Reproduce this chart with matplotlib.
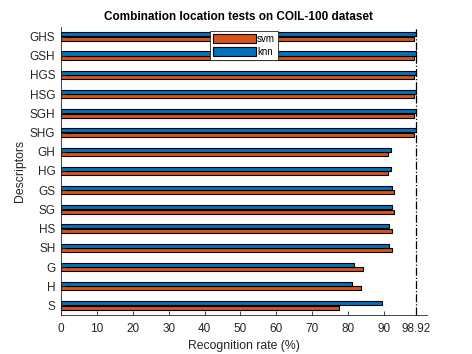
import numpy as np
import matplotlib
matplotlib.use("Agg")
import matplotlib.pyplot as plt

plt.rcParams['font.family'] = ['Liberation Sans', 'DejaVu Sans']

descriptors = ["S", "H", "G", "SH", "HS", "SG", "GS", "HG", "GH",
               "SHG", "SGH", "HSG", "HGS", "GSH", "GHS"]
svm = [77.5, 83.5, 84.0, 92.1, 92.1, 92.9, 92.9, 91.1, 91.1,
       98.4, 98.4, 98.4, 98.4, 98.4, 98.4]
knn = [89.4, 81.2, 81.6, 91.5, 91.5, 92.1, 92.1, 91.9, 91.9,
       98.92, 98.92, 98.92, 98.92, 98.92, 98.92]
best = 98.92
xticks = [0, 10, 20, 30, 40, 50, 60, 70, 80, 90, best]
xticklabels = ["0", "10", "20", "30", "40", "50", "60", "70", "80", "90", "98.92"]

fig = plt.figure(figsize=(4.72, 3.54), dpi=100)
ax = fig.add_axes([0.129, 0.110, 0.776, 0.814])

y = np.arange(1, len(descriptors) + 1)
h = 0.21
ax.barh(y - h / 2 - 0.01, svm, height=h, color="#D95319", edgecolor="black",
        linewidth=0.8, label="svm")
ax.barh(y + h / 2 + 0.01, knn, height=h, color="#0072BD", edgecolor="black",
        linewidth=0.8, label="knn")
ax.axvline(best, color="black", linestyle="-.", linewidth=0.9)

ax.set_xlim(0, 102)
ax.set_ylim(0.5, 15.5)
ax.set_yticks(y)
ax.set_yticklabels(descriptors)
ax.set_xticks(xticks)
ax.set_xticklabels(xticklabels)
ax.tick_params(direction="in", length=3, labelsize=8.5, colors="#262626", width=0.6)
ax.tick_params(axis="x", pad=6)
ax.tick_params(axis="y", pad=4)
for s in ["top", "right"]:
    ax.spines[s].set_visible(False)
for s in ["left", "bottom"]:
    ax.spines[s].set_color("#262626")
    ax.spines[s].set_linewidth(0.6)

ax.set_title("Combination location tests on COIL-100 dataset", fontsize=8.5,
             fontweight="bold", pad=5, x=0.484)
ax.set_xlabel("Recognition rate (%)", fontsize=8.8, color="#262626", labelpad=3)
ax.set_ylabel("Descriptors", fontsize=8.8, color="#262626", labelpad=3)

leg = ax.legend(loc="upper center", bbox_to_anchor=(0.5, 0.985), fontsize=7,
                frameon=True, fancybox=False, framealpha=1, edgecolor="#262626",
                handlelength=4.4, handleheight=1.0, handletextpad=0.1,
                borderpad=0.3, labelspacing=0.3, borderaxespad=0)
leg.get_frame().set_linewidth(0.6)

fig.savefig("out.png", dpi=100)
